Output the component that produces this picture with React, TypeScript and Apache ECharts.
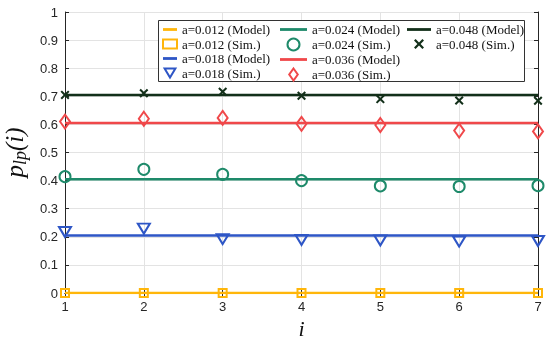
import React, { useEffect, useRef } from "react";
import * as echarts from "echarts";

const iValues = [1, 2, 3, 4, 5, 6, 7];
const yTicks = [0, 0.1, 0.2, 0.3, 0.4, 0.5, 0.6, 0.7, 0.8, 0.9, 1];

const modelA012 = [0, 0, 0, 0, 0, 0, 0];
const modelA018 = [0.205, 0.205, 0.205, 0.205, 0.205, 0.205, 0.205];
const modelA024 = [0.405, 0.405, 0.405, 0.405, 0.405, 0.405, 0.405];
const modelA036 = [0.605, 0.605, 0.605, 0.605, 0.605, 0.605, 0.605];
const modelA048 = [0.705, 0.705, 0.705, 0.705, 0.705, 0.705, 0.705];

const simA012 = [0, 0, 0, 0, 0, 0, 0];
const simA018 = [0.217, 0.229, 0.192, 0.189, 0.187, 0.183, 0.185];
const simA024 = [0.414, 0.44, 0.422, 0.4, 0.381, 0.379, 0.382];
const simA036 = [0.61, 0.62, 0.623, 0.602, 0.598, 0.578, 0.575];
const simA048 = [0.705, 0.711, 0.716, 0.702, 0.69, 0.685, 0.684];

const C_Y = "#FFB60A";
const C_B = "#2E56C6";
const C_G = "#1E8A6A";
const C_R = "#F0484A";
const C_K = "#13301A";

const CROSS =
  "path://M1.6,0 L5,3.4 L8.4,0 L10,1.6 L6.6,5 L10,8.4 L8.4,10 L5,6.6 L1.6,10 L0,8.4 L3.4,5 L0,1.6 Z";
const TRI_DOWN = "path://M0,0 L12,0 L6,10 Z";
const DIAMOND = "path://M5,0 L10,7 L5,14 L0,7 Z";
const bar = (w: number) => `path://M0,0 L${w},0 L${w},2.8 L0,2.8 Z`;

const pairs = (ys: number[]) => iValues.map((x, k) => [x, ys[k]]);

const modelSeries = (name: string, ys: number[], color: string) => ({
  name,
  type: "line",
  data: pairs(ys),
  symbol: "none",
  showSymbol: false,
  lineStyle: { color, width: 2.5 },
  itemStyle: { color },
  z: 2,
});

const simSeries = (
  name: string,
  ys: number[],
  color: string,
  symbol: string,
  size: number | number[],
  extra: any = {}
) => ({
  name,
  type: "scatter",
  data: pairs(ys),
  symbol,
  symbolSize: size,
  itemStyle: {
    color: "transparent",
    borderColor: color,
    borderWidth: 2,
    opacity: 1,
  },
  z: 3,
  ...extra,
});

const legendText = {
  fontFamily: "Liberation Serif",
  fontSize: 13,
  lineHeight: 12,
  color: "#111",
};

export default function App() {
  const ref = useRef<HTMLDivElement>(null);
  useEffect(() => {
    if (!ref.current) return;
    const chart = echarts.init(ref.current, null, { renderer: "svg" });
    const axisColor = "#262626";
    chart.setOption({
      animation: false,
      grid: { left: 65, right: 12, top: 12, bottom: 46, outerBoundsMode: "none", containLabel: false },
      xAxis: [
        {
          type: "value",
          min: 1,
          max: 7,
          interval: 1,
          name: "i",
          nameLocation: "middle",
          nameGap: 22,
          nameTextStyle: {
            fontFamily: "Liberation Serif",
            fontStyle: "italic",
            fontSize: 22,
            lineHeight: 20,
            color: "#111",
          },
          axisLine: { show: true, lineStyle: { color: axisColor, width: 1 } },
          axisTick: { show: true, inside: true, length: 4, lineStyle: { color: axisColor } },
          axisLabel: {
            color: "#262626",
            fontFamily: "Liberation Sans",
            fontSize: 13,
            margin: 7,
          },
          splitLine: { show: true, lineStyle: { color: "#e3e3e3", width: 1 } },
        },
        {
          type: "value",
          position: "top",
          min: 1,
          max: 7,
          interval: 1,
          axisLine: { show: true, lineStyle: { color: axisColor, width: 1 } },
          axisTick: { show: true, inside: true, length: 4, lineStyle: { color: axisColor } },
          axisLabel: { show: false },
          splitLine: { show: false },
        },
      ],
      yAxis: [
        {
          type: "value",
          min: 0,
          max: 1,
          interval: 0.1,
          name: "{p|p}{s|lp}{p|(i)}",
          nameLocation: "middle",
          nameGap: 34,
          nameTextStyle: {
            rich: {
              p: {
                fontFamily: "Liberation Serif",
                fontStyle: "italic",
                fontSize: 25,
                color: "#111",
                lineHeight: 30,
                verticalAlign: "middle",
              },
              s: {
                fontFamily: "Liberation Serif",
                fontStyle: "italic",
                fontSize: 18,
                color: "#111",
                lineHeight: 30,
                padding: [10, 0, 0, 0],
                verticalAlign: "bottom",
              },
            },
          },
          axisLine: { show: true, lineStyle: { color: axisColor, width: 1 } },
          axisTick: { show: true, inside: true, length: 4, lineStyle: { color: axisColor } },
          axisLabel: {
            color: "#262626",
            fontFamily: "Liberation Sans",
            fontSize: 13,
            margin: 7,
            formatter: (v: number) => {
              const t = yTicks.find((q) => Math.abs(q - v) < 1e-6);
              return t === undefined ? "" : String(t);
            },
          },
          splitLine: { show: true, lineStyle: { color: "#e3e3e3", width: 1 } },
        },
        {
          type: "value",
          position: "right",
          min: 0,
          max: 1,
          interval: 0.1,
          axisLine: { show: true, lineStyle: { color: axisColor, width: 1 } },
          axisTick: { show: true, inside: true, length: 4, lineStyle: { color: axisColor } },
          axisLabel: { show: false },
          splitLine: { show: false },
        },
      ],
      graphic: [
        {
          type: "rect",
          z: 50,
          shape: { x: 158.5, y: 20.5, width: 366, height: 61 },
          style: { fill: "#fff", stroke: "#333", lineWidth: 1 },
        },
      ],
      legend: [
        {
          orient: "vertical",
          left: 162,
          top: 23,
          itemWidth: 14,
          itemHeight: 9,
          itemGap: 1.5,
          padding: 0,
          z: 60,
          textStyle: legendText,
          data: [
            { name: "a=0.012 (Model)", icon: bar(14) },
            { name: "a=0.012 (Sim.)", icon: "rect" },
            { name: "a=0.018 (Model)", icon: bar(14) },
            { name: "a=0.018 (Sim.)", icon: TRI_DOWN },
          ],
        },
        {
          orient: "vertical",
          left: 280,
          top: 23,
          itemWidth: 27,
          itemHeight: 12,
          itemGap: 1.5,
          padding: 0,
          z: 60,
          textStyle: legendText,
          data: [
            { name: "a=0.024 (Model)", icon: bar(27) },
            { name: "a=0.024 (Sim.)", icon: "circle" },
            { name: "a=0.036 (Model)", icon: bar(27) },
            { name: "a=0.036 (Sim.)", icon: DIAMOND },
          ],
        },
        {
          orient: "vertical",
          left: 407,
          top: 23,
          itemWidth: 24,
          itemHeight: 10,
          itemGap: 1.5,
          padding: 0,
          z: 60,
          textStyle: legendText,
          data: [
            { name: "a=0.048 (Model)", icon: bar(24) },
            { name: "a=0.048 (Sim.)", icon: CROSS },
          ],
        },
      ],
      series: [
        modelSeries("a=0.012 (Model)", modelA012, C_Y),
        modelSeries("a=0.018 (Model)", modelA018, C_B),
        modelSeries("a=0.024 (Model)", modelA024, C_G),
        modelSeries("a=0.036 (Model)", modelA036, C_R),
        modelSeries("a=0.048 (Model)", modelA048, C_K),
        simSeries("a=0.012 (Sim.)", simA012, C_Y, "rect", 8),
        simSeries("a=0.018 (Sim.)", simA018, C_B, "triangle", [12, 10], { symbolRotate: 180 }),
        simSeries("a=0.024 (Sim.)", simA024, C_G, "circle", 11),
        simSeries("a=0.036 (Sim.)", simA036, C_R, "diamond", [10, 14]),
        {
          name: "a=0.048 (Sim.)",
          type: "scatter",
          data: pairs(simA048),
          symbol: CROSS,
          symbolSize: 9,
          itemStyle: { color: C_K, opacity: 1 },
          z: 3,
        },
      ],
    });
    return () => chart.dispose();
  }, []);
  return (
    <div
      ref={ref}
      style={{ position: "fixed", left: 0, top: 0, width: 550, height: 339 }}
    />
  );
}
